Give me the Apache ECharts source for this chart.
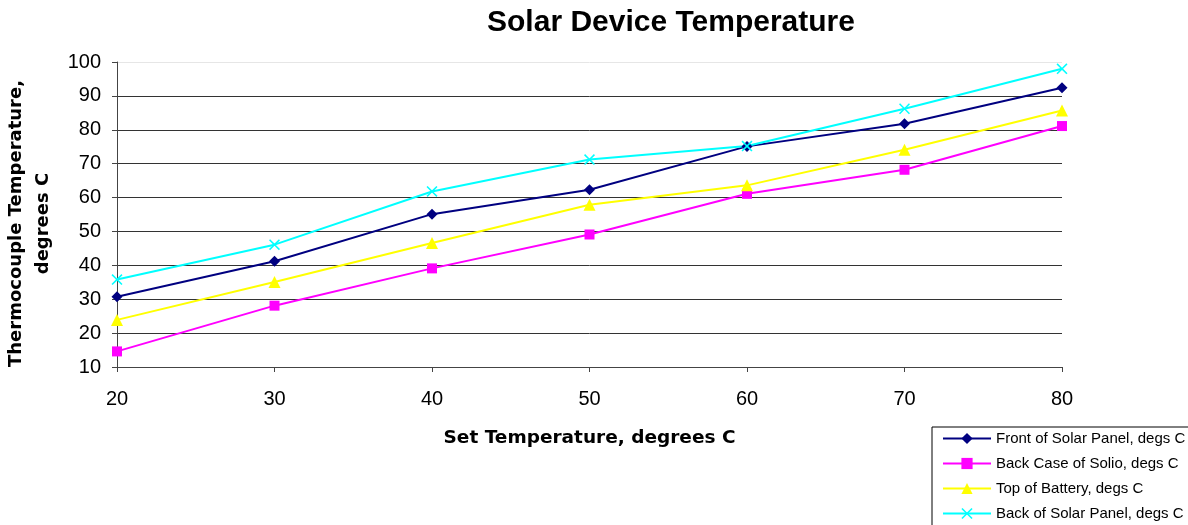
<!DOCTYPE html>
<html>
<head>
<meta charset="utf-8">
<title>Solar Device Temperature</title>
<script src="https://cdn.jsdelivr.net/npm/echarts@6/dist/echarts.min.js"></script>
<style>
  html, body { margin: 0; padding: 0; background: #fff; }
  #chart { width: 1188px; height: 525px; }
</style>
</head>
<body>
<div id="chart"></div>
<script>
// Set temperatures (x) and thermocouple readings for each sensor position
const setTemps = [20, 30, 40, 50, 60, 70, 80];
const frontPanel = [30.7, 41.2, 55.1, 62.3, 75.1, 81.8, 92.4];
const backCase = [14.6, 28.1, 39.1, 49.1, 61.1, 68.2, 81.1];
const topBattery = [23.9, 35.1, 46.6, 57.9, 63.6, 74.1, 85.7];
const backPanel = [35.8, 46.1, 61.8, 71.2, 75.2, 86.2, 98.0];

const seriesNames = [
  'Front of Solar Panel, degs C',
  'Back Case of Solio, degs C',
  'Top of Battery, degs C',
  'Back of Solar Panel, degs C'
];

const FONT = '"Liberation Sans", Arial, sans-serif';
const WIDE_FONT = '"DejaVu Sans", sans-serif';
const crossSymbol = 'path://M0,1 L1,0 L5,4 L9,0 L10,1 L6,5 L10,9 L9,10 L5,6 L1,10 L0,9 L4,5 Z';

function pairs(values) {
  return setTemps.map((t, i) => [t, values[i]]);
}

function lineSeries(name, values, color, symbol, size) {
  return {
    name: name,
    type: 'line',
    data: pairs(values),
    symbol: symbol,
    symbolSize: size,
    showAllSymbol: true,
    lineStyle: { color: color, width: 2 },
    itemStyle: { color: color },
    emphasis: { disabled: true },
    z: 3
  };
}

const chart = echarts.init(document.getElementById('chart'), null, { renderer: 'canvas' });

chart.setOption({
  backgroundColor: '#ffffff',
  animation: false,
  title: {
    text: 'Solar Device Temperature',
    left: 666,
    top: 3,
    textAlign: 'center',
    textStyle: { fontFamily: FONT, fontSize: 30, fontWeight: 'bold', color: '#000' }
  },
  grid: { left: 117, right: 126, top: 62, bottom: 158, containLabel: false, outerBoundsMode: 'none' },
  legend: {
    orient: 'vertical',
    left: 932,
    top: 427,
    height: 120,
    padding: [4, 12, 8, 10],
    itemGap: 10,
    itemWidth: 48,
    itemHeight: 14,
    borderColor: '#000',
    borderWidth: 1,
    backgroundColor: '#fff',
    textStyle: { fontFamily: FONT, fontSize: 15, color: '#000' },
    data: seriesNames
  },
  xAxis: {
    type: 'value',
    min: 20,
    max: 80,
    interval: 10,
    name: 'Set Temperature, degrees C',
    nameLocation: 'middle',
    nameGap: 62,
    nameTextStyle: { fontFamily: WIDE_FONT, fontSize: 18.5, fontWeight: 'bold', color: '#000' },
    axisLine: { show: true, lineStyle: { color: '#444', width: 1 } },
    axisTick: { show: true, length: 5, inside: false, lineStyle: { color: '#444' } },
    axisLabel: { fontFamily: FONT, fontSize: 20, color: '#000', margin: 22 },
    splitLine: { show: false }
  },
  yAxis: {
    type: 'value',
    min: 10,
    max: 100,
    interval: 10,
    name: 'Thermocouple Temperature,\ndegrees C',
    nameLocation: 'middle',
    nameGap: 56,
    nameTextStyle: {
      fontFamily: WIDE_FONT, fontSize: 18, fontWeight: 'bold', color: '#000',
      lineHeight: 27, padding: [0, 18, 0, 0]
    },
    axisLine: { show: true, lineStyle: { color: '#444', width: 1 } },
    axisTick: { show: true, length: 5, inside: false, lineStyle: { color: '#444' } },
    axisLabel: { fontFamily: FONT, fontSize: 20, color: '#000', margin: 16 },
    splitLine: {
      show: true,
      lineStyle: {
        color: ['#333', '#333', '#333', '#333', '#333', '#333', '#333', '#333', '#333', '#e6e6e6'],
        width: 1
      }
    }
  },
  series: [
    lineSeries(seriesNames[0], frontPanel, '#000080', 'diamond', 11),
    lineSeries(seriesNames[1], backCase, '#ff00ff', 'rect', 10),
    lineSeries(seriesNames[2], topBattery, '#ffff00', 'triangle', 12),
    lineSeries(seriesNames[3], backPanel, '#00ffff', crossSymbol, 11)
  ]
});
</script>
</body>
</html>
